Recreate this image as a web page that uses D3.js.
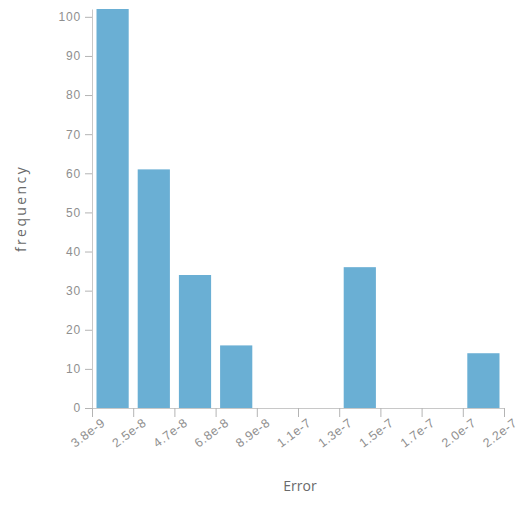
<!DOCTYPE html>
<html>
<head>
<meta charset="utf-8">
<script src="https://cdn.jsdelivr.net/npm/d3@7"></script>
<style>
  html, body { margin: 0; padding: 0; background: #fff; }
  svg { display: block; font-family: "Open Sans", "Noto Sans", sans-serif; }
</style>
</head>
<body>
<svg id="chart" width="524" height="508"></svg>
<script>
// Histogram of Error values: 10 equal-width bins
const errorMin = 3.8e-9;
const binWidth = 2.14e-8;
const binCounts = [102, 61, 34, 16, 0, 0, 36, 0, 0, 14];
const tickLabels = ["3.8e-9", "2.5e-8", "4.7e-8", "6.8e-8", "8.9e-8", "1.1e-7",
                    "1.3e-7", "1.5e-7", "1.7e-7", "2.0e-7", "2.2e-7"];
const yTicks = [0, 10, 20, 30, 40, 50, 60, 70, 80, 90, 100];

const binEdges = d3.range(binCounts.length + 1).map(i => errorMin + i * binWidth);
const bins = binCounts.map((c, i) => ({ x0: binEdges[i], x1: binEdges[i + 1], count: c }));

const svg = d3.select("#chart");
const plot = { left: 92, right: 504, top: 9, bottom: 408 };

const x = d3.scaleLinear()
  .domain([binEdges[0], binEdges[binEdges.length - 1]])
  .range([plot.left, plot.right]);
const y = d3.scaleLinear()
  .domain([0, d3.max(binCounts)])
  .range([plot.bottom, plot.top]);

// bars
svg.append("g")
  .selectAll("rect")
  .data(bins.filter(b => b.count > 0))
  .join("rect")
  .attr("x", d => x(d.x0) + 4.5)
  .attr("width", d => x(d.x1) - x(d.x0) - 9)
  .attr("y", d => y(d.count))
  .attr("height", d => y(0) - y(d.count))
  .attr("fill", "#6aafd4");

// y axis
const yAxis = svg.append("g")
  .attr("transform", `translate(${plot.left},0)`)
  .call(d3.axisLeft(y).tickValues(yTicks).tickSize(7).tickPadding(4).tickSizeOuter(0));
yAxis.select(".domain").attr("stroke", "#c8c8c8");
yAxis.selectAll(".tick line").attr("stroke", "#b4b4b4");
yAxis.selectAll(".tick text")
  .attr("fill", "#8f8f8f")
  .style("font-size", "12px")
  .style("letter-spacing", "0.8px");

// x axis
const xAxis = svg.append("g")
  .attr("transform", `translate(0,${plot.bottom})`)
  .call(d3.axisBottom(x).tickValues(binEdges).tickFormat((d, i) => tickLabels[i])
    .tickSize(9).tickSizeOuter(0));
xAxis.select(".domain").attr("stroke", "#c8c8c8");
xAxis.selectAll(".tick line").attr("stroke", "#b4b4b4");
xAxis.selectAll(".tick text")
  .attr("fill", "#8f8f8f")
  .style("font-size", "12.5px")
  .style("letter-spacing", "0.6px")
  .attr("text-anchor", "end")
  .attr("x", 0).attr("y", 0).attr("dy", "0.35em")
  .attr("transform", "translate(11,13) rotate(-37)");

// axis titles
svg.append("text")
  .attr("x", (plot.left + plot.right) / 2 + 2)
  .attr("y", 491)
  .attr("text-anchor", "middle")
  .attr("fill", "#6a6a6a")
  .style("font-size", "14px")
  .text("Error");

svg.append("text")
  .attr("transform", `translate(26,${(plot.top + plot.bottom) / 2}) rotate(-90)`)
  .attr("text-anchor", "middle")
  .attr("fill", "#6a6a6a")
  .style("font-size", "14px")
  .style("letter-spacing", "2.4px")
  .text("frequency");
</script>
</body>
</html>
